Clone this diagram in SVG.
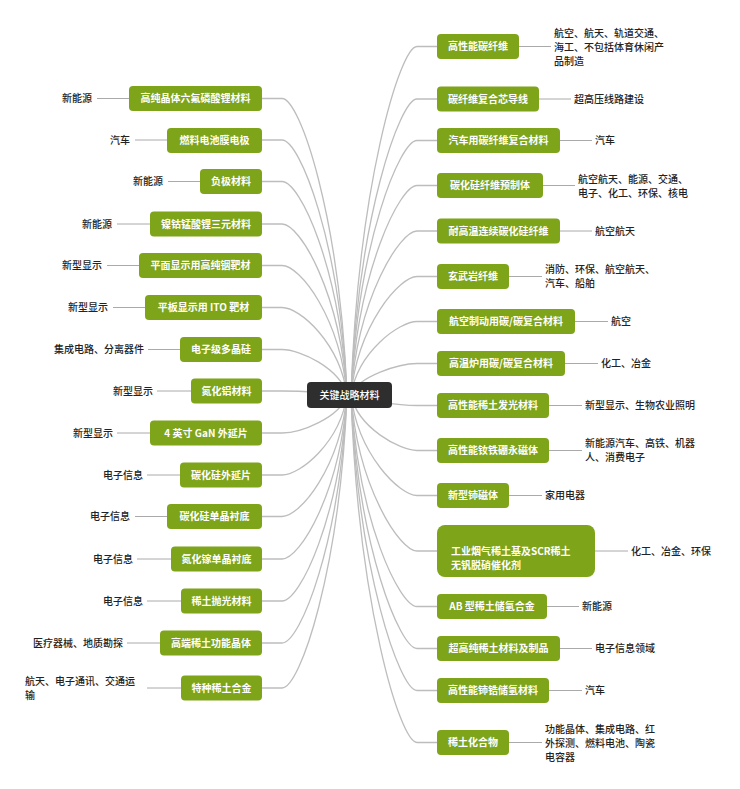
<svg xmlns="http://www.w3.org/2000/svg" width="740" height="789" viewBox="0 0 740 789">
<style>
text{font-family:"Noto Sans CJK SC","Noto Sans",sans-serif;font-size:10px}
.n rect{fill:#7ea41a}
.n text{fill:#fff;font-weight:bold;text-anchor:middle}
.lb{fill:#222;font-weight:500}
.le{text-anchor:end}
.cv{fill:none;stroke:#bdbdbd;stroke-width:1.3}
.ln{fill:none;stroke:#aaaaaa;stroke-width:1}
</style>
<rect width="740" height="789" fill="#fff"/>
<g id="connectors">
<path class="cv" d="M262,98.5H282C300,98.5 340,217 347,395"/>
<path class="cv" d="M262,140H282C300,140 340,242 347,395"/>
<path class="cv" d="M262,181.5H282C300,181.5 340,267 347,395"/>
<path class="cv" d="M262,224H282C300,224 340,292 347,395"/>
<path class="cv" d="M262,265.5H282C300,265.5 340,317 347,395"/>
<path class="cv" d="M262,307.5H282C300,307.5 340,343 347,395"/>
<path class="cv" d="M262,349.5H282C300,349.5 340,368 347,395"/>
<path class="cv" d="M262,391H282C300,391 340,393 347,395"/>
<path class="cv" d="M262,433H282C300,433 340,418 347,395"/>
<path class="cv" d="M262,475H282C300,475 340,443 347,395"/>
<path class="cv" d="M262,516.5H282C300,516.5 340,468 347,395"/>
<path class="cv" d="M262,559H282C300,559 340,493 347,395"/>
<path class="cv" d="M262,601H282C300,601 340,518 347,395"/>
<path class="cv" d="M262,643H282C300,643 340,544 347,395"/>
<path class="cv" d="M262,688H282C300,688 340,571 347,395"/>
<path class="cv" d="M437,46.5H417C400,46.5 358,186 351,395"/>
<path class="cv" d="M437,99H417C400,99 358,217 351,395"/>
<path class="cv" d="M437,140.5H417C400,140.5 358,242 351,395"/>
<path class="cv" d="M437,185.5H417C400,185.5 358,269 351,395"/>
<path class="cv" d="M437,231H417C400,231 358,297 351,395"/>
<path class="cv" d="M437,276.5H417C400,276.5 358,324 351,395"/>
<path class="cv" d="M437,321.5H417C400,321.5 358,351 351,395"/>
<path class="cv" d="M437,363.5H417C400,363.5 358,376 351,395"/>
<path class="cv" d="M437,405.5H417C400,405.5 358,400 351,395"/>
<path class="cv" d="M437,450.5H417C400,450.5 358,428 351,395"/>
<path class="cv" d="M437,495.5H417C400,495.5 358,455 351,395"/>
<path class="cv" d="M437,551H417C400,551 358,488 351,395"/>
<path class="cv" d="M437,606.5H417C400,606.5 358,522 351,395"/>
<path class="cv" d="M437,648.5H417C400,648.5 358,547 351,395"/>
<path class="cv" d="M437,690.5H417C400,690.5 358,572 351,395"/>
<path class="cv" d="M437,742.5H417C400,742.5 358,604 351,395"/>
<path class="ln" d="M97,98.5H129M135,140H167M168,181.5H200M117,224H150M107,265.5H139M113,307.5H145M148,349.5H180M157,391H191M117,433H150M147,475H180M135,516.5H167M137,559H171M147,601H181M127,643H160M147,688H181"/>
<path class="ln" d="M519,46.5H551M539,99H571M560,140.5H592M543,185.5H575M560,231H592M509,276.5H542M575,321.5H608M565,363.5H598M549,405.5H582M549,450.5H582M509,495.5H542M595,551H628M547,606.5H579M560,648.5H592M549,690.5H582M509,742.5H542"/>
</g>
<g id="center"><rect x="307" y="382" width="85" height="26" rx="4" fill="#2e2e2e"/><text x="349.5" y="398.5" fill="#fff" text-anchor="middle" font-weight="500">关键战略材料</text></g>
<g id="L1" class="n"><rect x="129" y="86" width="133" height="25" rx="4"/><text x="195.5" y="102">高纯晶体六氟磷酸锂材料</text></g>
<g id="L2" class="n"><rect x="167" y="128" width="95" height="25" rx="4"/><text x="214.5" y="143.5">燃料电池膜电极</text></g>
<g id="L3" class="n"><rect x="200" y="169" width="62" height="25" rx="4"/><text x="231" y="185">负极材料</text></g>
<g id="L4" class="n"><rect x="150" y="211.5" width="112" height="25" rx="4"/><text x="206" y="227.5">镍钴锰酸锂三元材料</text></g>
<g id="L5" class="n"><rect x="139" y="253" width="123" height="25" rx="4"/><text x="200.5" y="269">平面显示用高纯铟靶材</text></g>
<g id="L6" class="n"><rect x="145" y="295" width="117" height="25" rx="4"/><text x="203.5" y="311">平板显示用 ITO 靶材</text></g>
<g id="L7" class="n"><rect x="180" y="337" width="82" height="25" rx="4"/><text x="221" y="353">电子级多晶硅</text></g>
<g id="L8" class="n"><rect x="191" y="378.5" width="71" height="25" rx="4"/><text x="226.5" y="394.5">氮化铝材料</text></g>
<g id="L9" class="n"><rect x="150" y="420.5" width="112" height="25" rx="4"/><text x="206" y="436.5">4 英寸 GaN 外延片</text></g>
<g id="L10" class="n"><rect x="180" y="462.5" width="82" height="25" rx="4"/><text x="221" y="478.5">碳化硅外延片</text></g>
<g id="L11" class="n"><rect x="167" y="504" width="95" height="25" rx="4"/><text x="214.5" y="520">碳化硅单晶衬底</text></g>
<g id="L12" class="n"><rect x="171" y="546.5" width="91" height="25" rx="4"/><text x="216.5" y="562.5">氮化镓单晶衬底</text></g>
<g id="L13" class="n"><rect x="181" y="588.5" width="81" height="25" rx="4"/><text x="221.5" y="604.5">稀土抛光材料</text></g>
<g id="L14" class="n"><rect x="160" y="630.5" width="102" height="25" rx="4"/><text x="211" y="646.5">高端稀土功能晶体</text></g>
<g id="L15" class="n"><rect x="181" y="675.5" width="81" height="25" rx="4"/><text x="221.5" y="691.5">特种稀土合金</text></g>
<g id="left-labels" class="lb">
<text class="le" x="92" y="102">新能源</text>
<text class="le" x="130" y="143.5">汽车</text>
<text class="le" x="163" y="185">新能源</text>
<text class="le" x="112" y="227.5">新能源</text>
<text class="le" x="102" y="269">新型显示</text>
<text class="le" x="108" y="311">新型显示</text>
<text class="le" x="144" y="353">集成电路、分离器件</text>
<text class="le" x="153" y="394.5">新型显示</text>
<text class="le" x="113" y="436.5">新型显示</text>
<text class="le" x="143" y="478.5">电子信息</text>
<text class="le" x="130" y="520">电子信息</text>
<text class="le" x="133" y="562.5">电子信息</text>
<text class="le" x="143" y="604.5">电子信息</text>
<text class="le" x="123" y="646.5">医疗器械、地质勘探</text>
<text x="25" y="684.5">航天、电子通讯、交通运</text>
<text x="25" y="698.5">输</text>
</g>
<g id="R1" class="n"><rect x="437" y="34" width="82" height="25" rx="4"/><text x="478" y="50">高性能碳纤维</text></g>
<g id="R2" class="n"><rect x="437" y="86.5" width="102" height="25" rx="4"/><text x="488" y="102.5">碳纤维复合芯导线</text></g>
<g id="R3" class="n"><rect x="437" y="128" width="123" height="25" rx="4"/><text x="498.5" y="144">汽车用碳纤维复合材料</text></g>
<g id="R4" class="n"><rect x="437" y="173" width="106" height="25" rx="4"/><text x="490" y="189">碳化硅纤维预制体</text></g>
<g id="R5" class="n"><rect x="437" y="218.5" width="123" height="25" rx="4"/><text x="498.5" y="234.5">耐高温连续碳化硅纤维</text></g>
<g id="R6" class="n"><rect x="437" y="264" width="72" height="25" rx="4"/><text x="473" y="280">玄武岩纤维</text></g>
<g id="R7" class="n"><rect x="437" y="309" width="138" height="25" rx="4"/><text x="506" y="325">航空制动用碳/碳复合材料</text></g>
<g id="R8" class="n"><rect x="437" y="351" width="128" height="25" rx="4"/><text x="501" y="367">高温炉用碳/碳复合材料</text></g>
<g id="R9" class="n"><rect x="437" y="393" width="112" height="25" rx="4"/><text x="493" y="409">高性能稀土发光材料</text></g>
<g id="R10" class="n"><rect x="437" y="438" width="112" height="25" rx="4"/><text x="493" y="454">高性能钕铁硼永磁体</text></g>
<g id="R11" class="n"><rect x="437" y="483" width="72" height="25" rx="4"/><text x="473" y="499">新型铈磁体</text></g>
<g id="R12" class="n"><rect x="437" y="525" width="158" height="52" rx="8"/><text x="451" y="555" style="text-anchor:start">工业烟气稀土基及SCR稀土</text><text x="451" y="569" style="text-anchor:start">无钒脱硝催化剂</text></g>
<g id="R13" class="n"><rect x="437" y="594" width="110" height="25" rx="4"/><text x="492" y="610">AB 型稀土储氢合金</text></g>
<g id="R14" class="n"><rect x="437" y="636" width="123" height="25" rx="4"/><text x="498.5" y="652">超高纯稀土材料及制品</text></g>
<g id="R15" class="n"><rect x="437" y="678" width="112" height="25" rx="4"/><text x="493" y="694">高性能铈锆储氢材料</text></g>
<g id="R16" class="n"><rect x="437" y="730" width="72" height="25" rx="4"/><text x="473" y="746">稀土化合物</text></g>
<g id="right-labels" class="lb">
<text x="554" y="36.5">航空、航天、轨道交通、</text>
<text x="554" y="50.5">海工、不包括体育休闲产</text>
<text x="554" y="64.5">品制造</text>
<text x="574" y="102.5">超高压线路建设</text>
<text x="595" y="144">汽车</text>
<text x="578" y="182.5">航空航天、能源、交通、</text>
<text x="578" y="196.5">电子、化工、环保、核电</text>
<text x="595" y="234.5">航空航天</text>
<text x="545" y="273">消防、环保、航空航天、</text>
<text x="545" y="287">汽车、船舶</text>
<text x="611" y="325">航空</text>
<text x="601" y="367">化工、冶金</text>
<text x="585" y="409">新型显示、生物农业照明</text>
<text x="585" y="446.5">新能源汽车、高铁、机器</text>
<text x="585" y="460.5">人、消费电子</text>
<text x="545" y="499">家用电器</text>
<text x="631" y="554.5">化工、冶金、环保</text>
<text x="582" y="610">新能源</text>
<text x="595" y="652">电子信息领域</text>
<text x="585" y="694">汽车</text>
<text x="545" y="732.5">功能晶体、集成电路、红</text>
<text x="545" y="746.5">外探测、燃料电池、陶瓷</text>
<text x="545" y="760.5">电容器</text>
</g>
</svg>
